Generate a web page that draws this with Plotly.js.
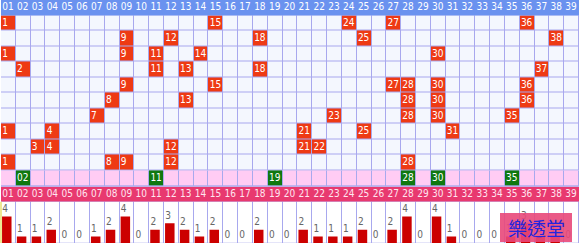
<!DOCTYPE html>
<html>
<head>
<meta charset="utf-8">
<script src="https://cdn.plot.ly/plotly-3.0.1.min.js"></script>
<style>html,body{margin:0;padding:0;background:#fff;}#chart{width:580px;height:246px;}</style>
</head>
<body>
<div id="chart"></div>
<script>
// ---- data ----
const numberLabels = ['01','02','03','04','05','06','07','08','09','10','11','12','13','14','15','16','17','18','19','20',
  '21','22','23','24','25','26','27','28','29','30','31','32','33','34','35','36','37','38','39'];
const numberValues = [1,2,3,4,5,6,7,8,9,10,11,12,13,14,15,16,17,18,19,20,21,22,23,24,25,26,27,28,29,30,31,32,33,34,35,36,37,38,39];
const draw01 = [1, 15, 24, 27, 36];
const draw02 = [9, 12, 18, 25, 38];
const draw03 = [1, 9, 11, 14, 30];
const draw04 = [2, 11, 13, 18, 37];
const draw05 = [9, 15, 27, 28, 30, 36];
const draw06 = [8, 13, 28, 30, 36];
const draw07 = [7, 23, 28, 30, 35];
const draw08 = [1, 4, 21, 25, 31];
const draw09 = [3, 4, 12, 21, 22];
const draw10 = [1, 8, 9, 12, 28];
const specialNumbers = [2, 11, 19, 28, 30, 35];
const specialLabels = ['02', '11', '19', '28', '30', '35'];
const counts = [4,1,1,2,0,0,1,2,4,0,2,3,2,1,2,0,0,2,0,0,2,1,1,1,2,0,2,4,0,4,1,0,0,0,1,3,1,1,0];
const watermarkText = '樂透堂';

// ---- styles ----
const FONT = "'DejaVu Sans Condensed', 'Liberation Sans', sans-serif";
const C = {
  line: '#a8a8ee', cell: '#f4f7fe', hit: '#ee3a14', header: '#6a92ef',
  pinkRow: '#ffccf4', green: '#0f780f', pinkHead: '#e8396f', bar: '#cc0000', label: '#666666'
};
const draws = [draw01, draw02, draw03, draw04, draw05, draw06, draw07, draw08, draw09, draw10];
const TX = -0.42; // text start offset inside a cell (in column units)

const traces = [];

// header row
traces.push({type:'heatmap', x:numberValues, y:[0], z:[numberValues.map(()=>0)],
  colorscale:[[0,C.header],[1,C.header]], showscale:false, hoverinfo:'skip', xaxis:'x', yaxis:'y'});
traces.push({type:'scatter', mode:'text', x:numberValues.map(v=>v+TX), y:numberValues.map(()=>0),
  text:numberLabels, textposition:'middle right', cliponaxis:false,
  textfont:{family:FONT, size:10, color:'#ffffff'}, hoverinfo:'skip', xaxis:'x', yaxis:'y'});

// draw grid
const zGrid = draws.map(row => numberValues.map(v => row.includes(v) ? 1 : 0));
traces.push({type:'heatmap', x:numberValues, y:draws.map((_,i)=>i+1), z:zGrid, xgap:1, ygap:1,
  colorscale:[[0,C.cell],[1,C.hit]], zmin:0, zmax:1, showscale:false, hoverinfo:'skip', xaxis:'x', yaxis:'y2'});
const hx = [], hy = [], ht = [];
draws.forEach((row,i)=>row.forEach(v=>{hx.push(v+TX); hy.push(i+1); ht.push(String(v));}));
traces.push({type:'scatter', mode:'text', x:hx, y:hy, text:ht, textposition:'middle right', cliponaxis:false,
  textfont:{family:FONT, size:10, color:'#ffffff'}, hoverinfo:'skip', xaxis:'x', yaxis:'y2'});

// special (green) row
traces.push({type:'heatmap', x:numberValues, y:[0], z:[numberValues.map(v=>specialNumbers.includes(v)?1:0)],
  xgap:1, ygap:1, colorscale:[[0,C.pinkRow],[1,C.green]], zmin:0, zmax:1, showscale:false, hoverinfo:'skip', xaxis:'x', yaxis:'y3'});
traces.push({type:'scatter', mode:'text', x:specialNumbers.map(v=>v+TX), y:specialNumbers.map(()=>0),
  text:specialLabels, textposition:'middle right', cliponaxis:false,
  textfont:{family:FONT, size:10, color:'#ffffff'}, hoverinfo:'skip', xaxis:'x', yaxis:'y3'});

// pink header row
traces.push({type:'heatmap', x:numberValues, y:[0], z:[numberValues.map(()=>0)],
  colorscale:[[0,C.pinkHead],[1,C.pinkHead]], showscale:false, hoverinfo:'skip', xaxis:'x', yaxis:'y4'});
traces.push({type:'scatter', mode:'text', x:numberValues.map(v=>v+TX), y:numberValues.map(()=>0),
  text:numberLabels, textposition:'middle right', cliponaxis:false,
  textfont:{family:FONT, size:10, color:'#ffe6f0'}, hoverinfo:'skip', xaxis:'x', yaxis:'y4'});

// bar area
const YMAX = 6.24;
traces.push({type:'heatmap', x:numberValues, y0:YMAX/2, dy:YMAX, z:[numberValues.map(()=>0)], xgap:1,
  colorscale:[[0,'#ffffff'],[1,'#ffffff']], showscale:false, hoverinfo:'skip', xaxis:'x', yaxis:'y5'});
traces.push({type:'bar', x:numberValues, y:counts, width:0.64, offset:-0.43,
  marker:{color:C.bar, line:{width:0}}, hoverinfo:'skip', xaxis:'x', yaxis:'y5'});
traces.push({type:'scatter', mode:'text', x:numberValues.map(v=>v+TX), y:counts.map(c=>c+0.3),
  text:counts.map(String), textposition:'top right', cliponaxis:false,
  textfont:{family:FONT, size:10, color:C.label}, hoverinfo:'skip', xaxis:'x', yaxis:'y5'});

const H = 243; // plot height in px
const dom = (top, bottom) => [(H-bottom)/H, (H-top)/H];
const yBase = {showgrid:false, zeroline:false, showticklabels:false, ticks:'', fixedrange:true, showline:false};

const layout = {
  width:580, height:246,
  margin:{l:1, r:1, t:0, b:3, pad:0},
  paper_bgcolor:'#ffffff', plot_bgcolor:C.line,
  showlegend:false, barmode:'overlay',
  xaxis:{range:[0.5,39.5], showgrid:false, zeroline:false, showticklabels:false, ticks:'', fixedrange:true},
  yaxis: Object.assign({}, yBase, {domain:dom(0,15.5), range:[-0.5,0.5]}),
  yaxis2:Object.assign({}, yBase, {domain:dom(15.5,170.3), range:[10.5,0.5]}),
  yaxis3:Object.assign({}, yBase, {domain:dom(170.3,186.7), range:[-0.5,0.5]}),
  yaxis4:Object.assign({}, yBase, {domain:dom(186.7,201.7), range:[-0.5,0.5]}),
  yaxis5:Object.assign({}, yBase, {domain:dom(201.7,243), range:[0,YMAX]}),
  shapes:[
    {type:'rect', xref:'paper', yref:'paper', x0:(500-1)/578, x1:(572-1)/578, y0:(H-242)/H, y1:(H-213)/H,
     fillcolor:'rgba(232,72,122,0.9)', line:{width:0}, layer:'above'},
    {type:'line', xref:'paper', yref:'paper', x0:0, x1:0, y0:0, y1:(H-201.7)/H,
     line:{color:'#e8e070', width:1.5}, layer:'above'}
  ],
  annotations:[
    {xref:'paper', yref:'paper', x:(536-1)/578, y:(H-227.5)/H, text:watermarkText, showarrow:false,
     xanchor:'center', yanchor:'middle', font:{family:"'Noto Sans CJK TC', sans-serif", size:19, color:'#2424dd'}}
  ]
};

Plotly.newPlot('chart', traces, layout, {staticPlot:true, displayModeBar:false});
</script>
</body>
</html>
